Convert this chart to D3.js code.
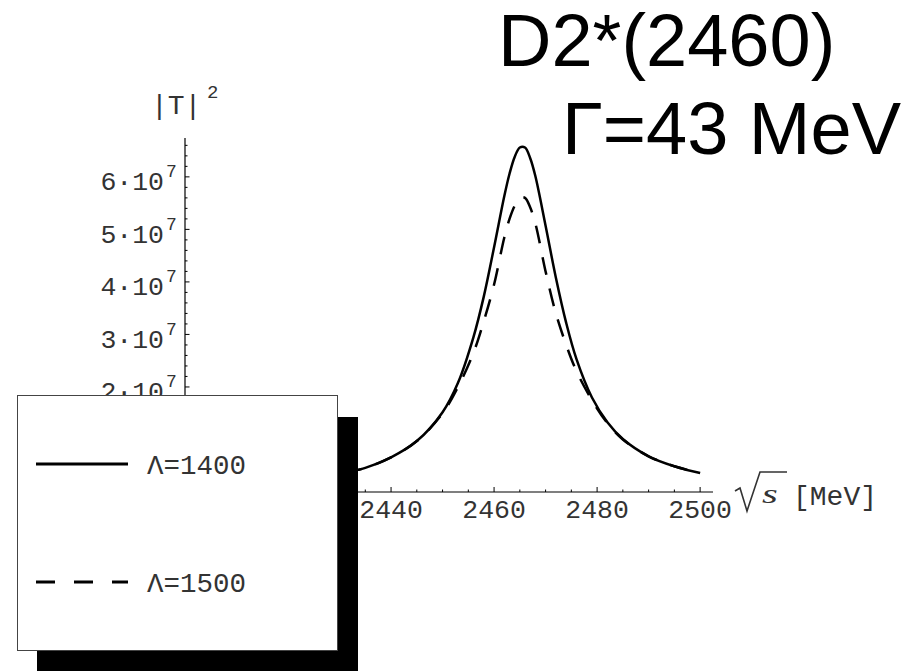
<!DOCTYPE html>
<html>
<head>
<meta charset="utf-8">
<script src="https://cdn.jsdelivr.net/npm/d3@7"></script>
<style>
  body { margin: 0; background: #fff; }
  svg { display: block; }
</style>
</head>
<body>
<div id="chart"></div>
<script>
    const width = 917
    const height = 671

    // sqrt(s) in MeV, |T|^2 in units of 10^7
    const sqrtS = [2400, 2410, 2420, 2430, 2435, 2440, 2445, 2450, 2453, 2456, 2458, 2460, 2462, 2463, 2464, 2465, 2466, 2467, 2468, 2470, 2472, 2474, 2476, 2479, 2482, 2485, 2490, 2495, 2500]
    const lambda1400 = [0.11, 0.15, 0.22, 0.35, 0.46, 0.66, 0.97, 1.52, 2.08, 2.95, 3.72, 4.66, 5.64, 6.06, 6.38, 6.56, 6.56, 6.36, 6.02, 5.07, 4.08, 3.22, 2.53, 1.80, 1.33, 1.01, 0.68, 0.49, 0.36]
    const lambda1500 = [0.11, 0.15, 0.22, 0.35, 0.46, 0.66, 0.97, 1.50, 2.00, 2.65, 3.25, 3.95, 4.85, 5.20, 5.45, 5.60, 5.60, 5.42, 5.12, 4.20, 3.40, 2.80, 2.30, 1.75, 1.31, 1.00, 0.68, 0.49, 0.36]

    const xTicks = [2420, 2440, 2460, 2480, 2500]
    const yTicks = [1, 2, 3, 4, 5, 6]
    const legendLabels = ["\u039b=1400", "\u039b=1500"]
    const titleLines = ["D2*(2460)", "\u0393=43 MeV"]

    const mono = "'Liberation Mono', 'Courier New', monospace"
    const textColor = "#333"

    const svg = d3.select("#chart")
        .append("svg")
        .attr("width", width)
        .attr("height", height)

    const x = d3.scaleLinear().domain([2400, 2502.5]).range([185, 713])
    const y = d3.scaleLinear().domain([0, 6.74]).range([492, 138])

    // x axis
    const xAxis = svg.append("g").attr("transform", "translate(0," + y(0) + ")")
    xAxis.append("line")
        .attr("x1", x(2400)).attr("x2", x(2502.5))
        .attr("stroke", "#000").attr("stroke-width", 1.2)
    xAxis.selectAll(".minor")
        .data(d3.range(2405, 2501, 5).filter(d => d % 20 !== 0))
        .join("line")
        .attr("x1", d => x(d)).attr("x2", d => x(d))
        .attr("y1", 0).attr("y2", -2.5)
        .attr("stroke", "#000")
    xAxis.selectAll(".major")
        .data(xTicks)
        .join("line")
        .attr("x1", d => x(d)).attr("x2", d => x(d))
        .attr("y1", 0).attr("y2", -5)
        .attr("stroke", "#000")
    xAxis.selectAll("text")
        .data(xTicks)
        .join("text")
        .attr("x", d => x(d))
        .attr("y", 26)
        .attr("text-anchor", "middle")
        .style("font-family", mono)
        .style("font-size", "26.5px")
        .attr("fill", textColor)
        .text(d => d)

    // sqrt(s) [MeV]
    svg.append("path")
        .attr("d", "M735,491 L740,488 L747,511 L760,472 L787,472")
        .attr("fill", "none")
        .attr("stroke", textColor)
        .attr("stroke-width", 1.6)
    svg.append("text")
        .attr("transform", "translate(762,503) scale(1.5,1)")
        .style("font-family", "'Liberation Serif', 'Times New Roman', serif")
        .style("font-style", "italic")
        .style("font-size", "27px")
        .attr("fill", textColor)
        .text("s")
    svg.append("text")
        .attr("x", 793).attr("y", 505)
        .style("font-family", mono)
        .style("font-size", "28px")
        .attr("fill", textColor)
        .text("[MeV]")

    // y axis
    const yAxis = svg.append("g").attr("transform", "translate(" + x(2400) + ",0)")
    yAxis.append("line")
        .attr("y1", y(0)).attr("y2", y(6.74))
        .attr("stroke", "#000").attr("stroke-width", 1.2)
    yAxis.selectAll(".minor")
        .data(d3.range(1, 34).map(d => d * 0.2).filter(d => Math.abs(d - Math.round(d)) > 0.01))
        .join("line")
        .attr("y1", d => y(d)).attr("y2", d => y(d))
        .attr("x1", 0).attr("x2", 2.5)
        .attr("stroke", "#000")
    yAxis.selectAll(".major")
        .data(yTicks)
        .join("line")
        .attr("y1", d => y(d)).attr("y2", d => y(d))
        .attr("x1", 0).attr("x2", 4.5)
        .attr("stroke", "#000")
    yAxis.selectAll(".lab")
        .data(yTicks)
        .join("text")
        .attr("x", -21)
        .attr("y", d => y(d) + 13.5)
        .attr("text-anchor", "end")
        .style("font-family", mono)
        .style("font-size", "26.5px")
        .attr("fill", textColor)
        .text(d => d + "\u00b710")
    yAxis.selectAll(".exp")
        .data(yTicks)
        .join("text")
        .attr("x", -19)
        .attr("y", d => y(d) + 0.5)
        .style("font-family", mono)
        .style("font-size", "18px")
        .attr("fill", textColor)
        .text("7")

    // |T|^2
    svg.append("text")
        .attr("x", 151).attr("y", 114)
        .style("font-family", mono)
        .style("font-size", "28px")
        .attr("fill", textColor)
        .text("|T|")
    svg.append("text")
        .attr("x", 207).attr("y", 98)
        .style("font-family", mono)
        .style("font-size", "19px")
        .attr("fill", textColor)
        .text("2")

    // curves
    const line = d3.line()
        .x((d, i) => x(sqrtS[i]))
        .y(d => y(d))
        .curve(d3.curveCatmullRom.alpha(0.5))

    svg.append("path")
        .attr("d", line(lambda1400))
        .attr("fill", "none")
        .attr("stroke", "#000")
        .attr("stroke-width", 2.5)

    svg.append("path")
        .attr("d", line(lambda1500))
        .attr("fill", "none")
        .attr("stroke", "#000")
        .attr("stroke-width", 2.5)
        .attr("stroke-dasharray", "18,14")

    // legend
    svg.append("rect")
        .attr("x", 37).attr("y", 417)
        .attr("width", 321).attr("height", 254)
        .attr("fill", "#000")
    svg.append("rect")
        .attr("x", 17.5).attr("y", 395.5)
        .attr("width", 320).attr("height", 255)
        .attr("fill", "#fff")
        .attr("stroke", "#444")
        .attr("stroke-width", 1)

    const legendY = [464, 582]
    svg.selectAll(".legline")
        .data(legendLabels)
        .join("line")
        .attr("x1", 36).attr("x2", 128)
        .attr("y1", (d, i) => legendY[i]).attr("y2", (d, i) => legendY[i])
        .attr("stroke", "#000")
        .attr("stroke-width", 2.8)
        .attr("stroke-dasharray", (d, i) => i === 0 ? null : "19,19")
    svg.selectAll(".legtext")
        .data(legendLabels)
        .join("text")
        .attr("x", 147)
        .attr("y", (d, i) => legendY[i] + 9.5)
        .style("font-family", mono)
        .style("font-size", "27.5px")
        .attr("fill", textColor)
        .text(d => d)

    // title
    svg.selectAll(".title")
        .data(titleLines)
        .join("text")
        .attr("x", (d, i) => i === 0 ? 498 : 562)
        .attr("y", (d, i) => i === 0 ? 66 : 154)
        .style("font-family", "'Liberation Sans', Arial, sans-serif")
        .style("font-size", "74px")
        .attr("fill", "#000")
        .text(d => d)
</script>
</body>
</html>
